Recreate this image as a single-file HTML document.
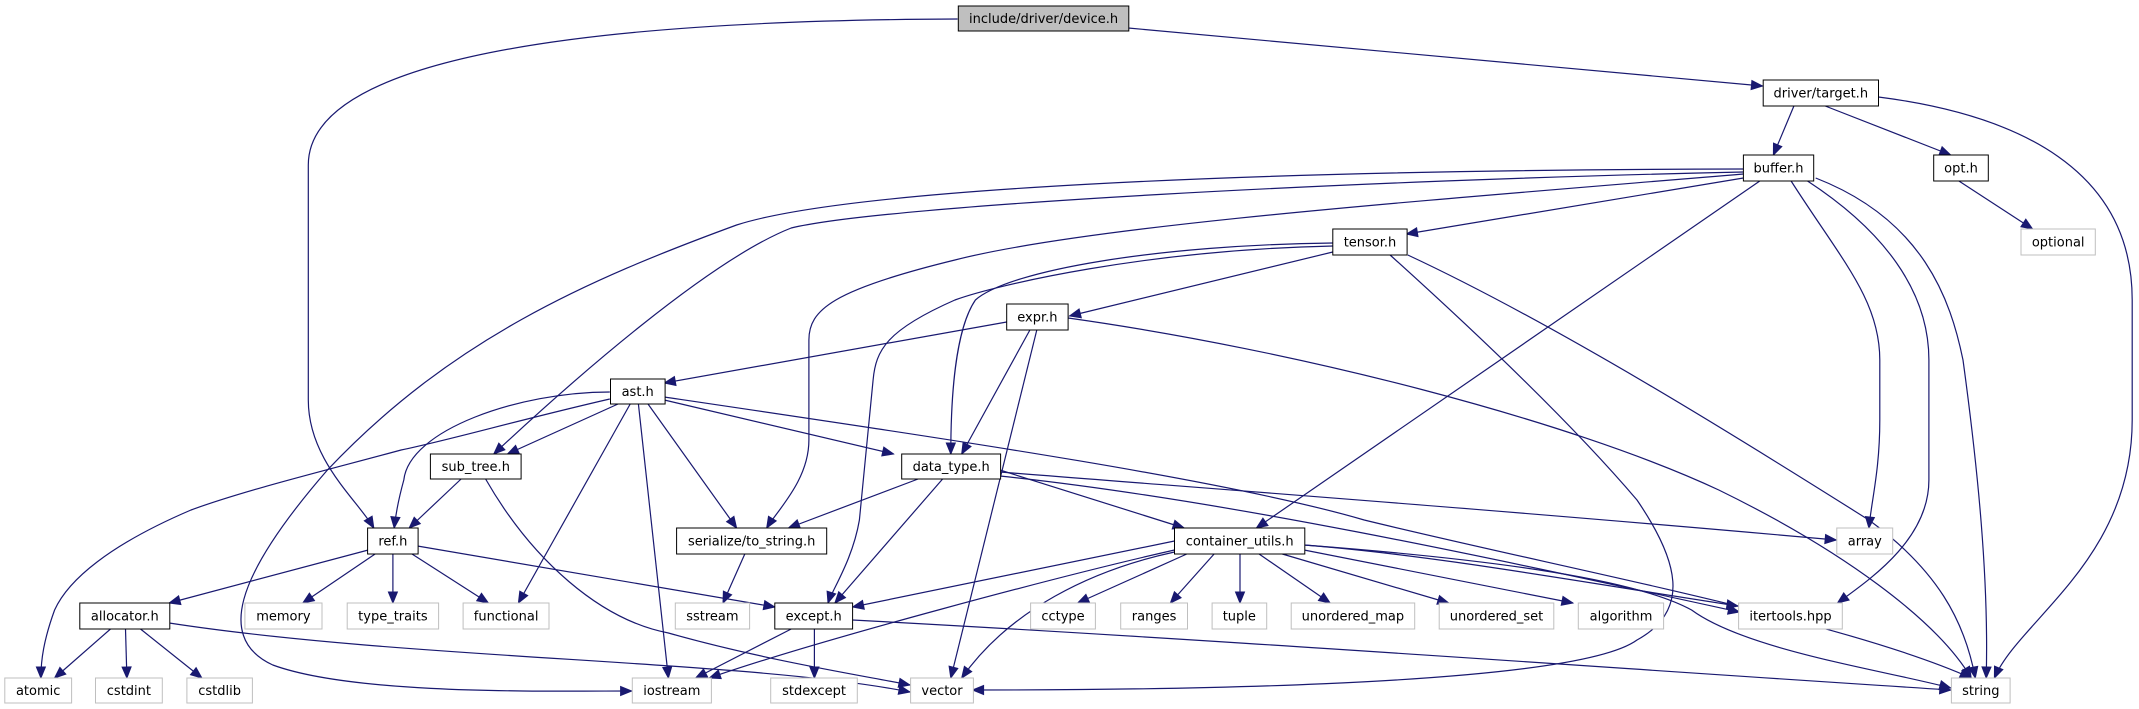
<!DOCTYPE html>
<html><head><meta charset="utf-8"><style>
html,body{margin:0;padding:0;background:#fff;}
svg{display:block;}
text{font-family:"DejaVu Sans","Liberation Sans",sans-serif;font-size:13px;fill:#000;}
</style></head><body>
<svg id="g" width="2139" height="709" viewBox="0 0 2139 709" xmlns="http://www.w3.org/2000/svg"></svg>
<script>
var K=2139/1568, C="#191970";
var nodes=[
["include/driver/device.h",702.5,827.5,6,31,2],
["driver/target.h",1292.5,1377,80,106,1],
["buffer.h",1278,1329.5,155,181,1],
["opt.h",1417.5,1457.5,155,181,1],
["optional",1481.5,1536,229,255,0],
["tensor.h",977,1031.5,229,255,1],
["expr.h",738,783,304,330,1],
["ast.h",447.5,487.5,379,404,1],
["sub_tree.h",315.5,382,454,479,1],
["data_type.h",661,733.5,454,479,1],
["ref.h",269.5,306.5,528,554,1],
["serialize/to_string.h",496,606,528,554,1],
["container_utils.h",861,956.5,528,554,1],
["array",1346.5,1387.5,528,554,0],
["allocator.h",58.5,124.5,603,629,1],
["memory",179.5,236,603,629,0],
["type_traits",254.5,321.5,603,629,0],
["functional",339.5,402.5,603,629,0],
["sstream",495,549.5,603,629,0],
["except.h",568,625,603,629,1],
["cctype",755.5,803,603,629,0],
["ranges",821.5,870.5,603,629,0],
["tuple",888.5,928.5,603,629,0],
["unordered_map",946.5,1037,603,629,0],
["unordered_set",1055,1139,603,629,0],
["algorithm",1157,1219.5,603,629,0],
["itertools.hpp",1274.5,1350.5,603,629,0],
["atomic",3.5,52.5,678,703,0],
["cstdint",70,119,678,703,0],
["cstdlib",137,185,678,703,0],
["iostream",463.5,521.5,678,703,0],
["stdexcept",565,628.5,678,703,0],
["vector",667.5,713.5,678,703,0],
["string",1430.5,1473.5,678,703,0]
];
var edges=[
"M702,19 C500,20 226,40 226,165 L226,400 C226,460 262,500 274,528",
"M827,28 L1292,86",
"M1315,106 L1300,155",
"M1338,106 L1430,155",
"M1377,97 C1480,115 1563,170 1563,300 L1563,420 C1563,560 1480,620 1462,678",
"M1436,181 L1490,229",
"M1278,178 L1031,234",
"M1278,169 C900,170 620,190 540,225 C430,280 330,340 240,470 C170,580 160,640 200,665 C260,695 400,691 463,691",
"M1278,172 C1000,180 650,205 580,228 C520,260 420,380 362,454",
"M1278,174 C1050,200 800,225 700,260 C610,290 593,310 593,340 L593,440 C593,480 570,510 562,528",
"M1290,181 L921,528",
"M1313,181 C1350,260 1378,300 1378,360 L1378,420 C1378,470 1372,500 1370,528",
"M1325,181 C1380,230 1414,290 1414,360 L1414,480 C1414,540 1370,580 1347,603",
"M1331,178 C1410,220 1430,300 1439,360 C1450,470 1458,580 1456,678",
"M977,252 L784,316",
"M977,243 C850,245 740,270 715,300 C700,330 697,400 697,454",
"M977,246 C840,250 730,285 700,300 C650,330 642,350 640,380 L630,520 C625,560 610,590 607,603",
"M1019,255 C1080,330 1150,420 1200,500 C1230,560 1240,610 1200,640 C1150,690 800,690 713,690",
"M1032,255 C1150,330 1300,460 1370,520 C1420,570 1440,620 1448,678",
"M738,322 L487,383",
"M755,330 L705,454",
"M760,330 L697,678",
"M783,318 C950,350 1150,420 1260,490 C1350,550 1420,620 1445,678",
"M453,404 L372,454",
"M447,392 C380,392 300,430 296,480 C292,500 290,515 289,528",
"M447,399 C380,420 330,440 294,450 C240,470 180,490 140,510 C80,545 50,580 40,610 C32,640 30,660 30,678",
"M462,404 L380,603",
"M468,404 L490,678",
"M475,404 L540,528",
"M487,400 L655,454",
"M487,397 C700,440 900,480 1000,520 C1150,570 1350,620 1445,678",
"M338,479 L300,528",
"M356,479 C390,560 440,620 490,633 C560,660 630,675 667,685",
"M270,550 L124,603",
"M275,554 L222,603",
"M288,554 L288,603",
"M302,554 L358,603",
"M306,546 L568,607",
"M673,479 L578,528",
"M691,479 L612,603",
"M733,470 L868,528",
"M733,472 C900,490 1100,510 1346,540",
"M733,476 C900,500 1100,560 1275,612",
"M546,554 L530,603",
"M81,629 L40,678",
"M92,629 L93,678",
"M103,629 L148,678",
"M124,623 C300,660 550,660 667,692",
"M580,629 L510,678",
"M597,629 L597,678",
"M625,620 C900,640 1200,670 1430,690",
"M861,541 L625,607",
"M861,550 C780,575 600,640 520,678",
"M861,552 C800,570 740,610 705,678",
"M870,554 L790,603",
"M890,554 L858,603",
"M909,554 L909,603",
"M923,554 L975,603",
"M940,554 L1062,603",
"M956,550 L1153,603",
"M956,545 C1050,555 1150,580 1274,606",
"M956,545 C1100,560 1200,580 1240,610 C1280,650 1380,670 1430,688"
];
var s="";
edges.forEach(function(p){
 var t=p.match(/[MCL]|-?\d+(\.\d+)?/g), out=[], pts=[], idx=0;
 t.forEach(function(tok){
  if(/[MCL]/.test(tok)){out.push(tok);idx=0;}
  else{var v=parseFloat(tok); if(idx%2==0){v=v*K;} out.push(v.toFixed(1)); pts.push(v); idx++;}
 });
 var n=pts.length, ex=pts[n-2], ey=pts[n-1], px=pts[n-4], py=pts[n-3];
 var dx=ex-px, dy=ey-py, L=Math.sqrt(dx*dx+dy*dy)||1; dx/=L; dy/=L;
 s+='<path d="'+out.join(" ")+'" fill="none" stroke="'+C+'" stroke-width="1.2"/>';
 var bx=ex-dx*11, by=ey-dy*11;
 s+='<polygon points="'+ex.toFixed(1)+','+ey.toFixed(1)+' '+(bx-dy*4.5).toFixed(1)+','+(by+dx*4.5).toFixed(1)+' '+(bx+dy*4.5).toFixed(1)+','+(by-dx*4.5).toFixed(1)+'" fill="'+C+'" stroke="'+C+'"/>';
});
nodes.forEach(function(n){
 var x1=n[1]*K,x2=n[2]*K,y1=n[3],y2=n[4];
 var fill=n[5]==2?"#bfbfbf":"#fff", st=n[5]==0?"#bfbfbf":"#000";
 s+='<rect x="'+x1.toFixed(1)+'" y="'+y1+'" width="'+(x2-x1).toFixed(1)+'" height="'+(y2-y1)+'" fill="'+fill+'" stroke="'+st+'" stroke-width="1"/>';
 s+='<text x="'+((x1+x2)/2).toFixed(1)+'" y="'+((y1+y2)/2+4.5)+'" text-anchor="middle">'+n[0]+'</text>';
});
document.getElementById("g").innerHTML=s;
</script>
</body></html>
